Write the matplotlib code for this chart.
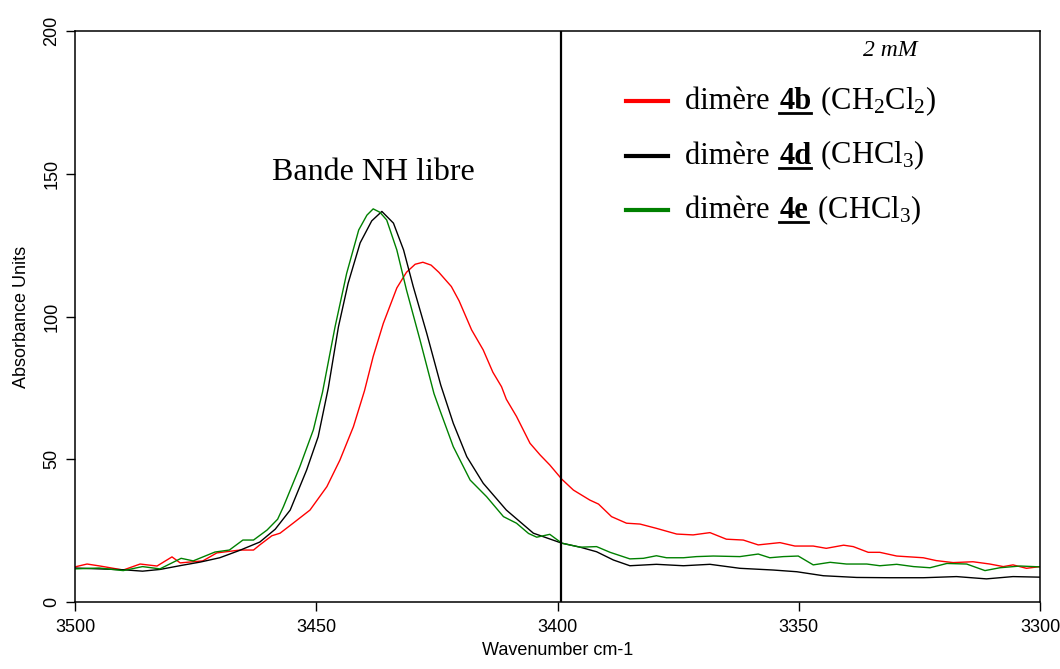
import matplotlib
matplotlib.use('Agg')
import matplotlib.pyplot as plt
import matplotlib.transforms as mtransforms
from matplotlib.lines import Line2D

# --- data (wavenumber cm-1, absorbance) ---
wn_red = [3500, 3497.5, 3494.8, 3490, 3486.5, 3483, 3479.9, 3478.2, 3473.5, 3470.6,
          3465.8, 3463, 3461.7, 3459.2, 3457.5, 3454.8, 3451.3, 3447.8, 3445.1, 3442.3,
          3440, 3438.2, 3436.1, 3433.3, 3431.3, 3429.5, 3427.9, 3426.2, 3424.6, 3422,
          3420.4, 3417.8, 3415.4, 3413.4, 3411.6, 3410.6, 3408.5, 3405.7, 3403.6, 3401.6,
          3399.1, 3396.7, 3393.3, 3391.5, 3388.8, 3385.7, 3382.9, 3379.5, 3375.3, 3371.9,
          3368.4, 3365.0, 3361.5, 3358.4, 3353.9, 3350.8, 3347.0, 3344.3, 3340.7, 3338.7,
          3335.6, 3333.2, 3329.7, 3324.2, 3321.5, 3318.0, 3313.9, 3310.4, 3307.6, 3305.6,
          3302.8, 3300]
abs_red = [12.3, 13.3, 12.6, 11.2, 13.3, 12.6, 15.8, 13.7, 14.4, 17.2,
           18.2, 18.2, 20.0, 23.2, 24.1, 27.6, 32.2, 40.4, 49.7, 61.4,
           74.0, 86.0, 97.6, 110.0, 115.5, 118.3, 119.0, 118.0, 115.5, 110.5,
           105.5, 95.3, 88.3, 80.5, 75.4, 71.0, 65.0, 55.6, 51.5, 48.0,
           43.0, 39.2, 35.7, 34.3, 29.9, 27.6, 27.3, 25.8, 23.8, 23.5,
           24.3, 22.0, 21.7, 20.0, 20.8, 19.6, 19.6, 18.8, 19.9, 19.4,
           17.4, 17.4, 16.1, 15.5, 14.5, 13.8, 14.1, 13.3, 12.4, 13.0,
           11.8, 12.4]

wn_black = [3500, 3495, 3490, 3486, 3482.4, 3478, 3474, 3470, 3466, 3461.7,
            3458.5, 3455.4, 3452.0, 3449.6, 3447.5, 3445.4, 3443.4, 3440.9, 3438.5, 3436.4,
            3434.0, 3431.9, 3429.9, 3427.1, 3424.2, 3421.6, 3418.8, 3415.4, 3410.6, 3405.0,
            3399.1, 3395.3, 3391.9, 3388.4, 3385.0, 3379.5, 3373.9, 3368.4, 3362.2, 3355.3,
            3350.4, 3344.9, 3338.0, 3331.1, 3324.2, 3317.3, 3311.1, 3305.6, 3300]
abs_black = [11.9, 11.6, 11.3, 10.8, 11.4, 12.8, 14.0, 15.5, 18.0, 21.0,
             25.5, 32.2, 46.2, 57.9, 75.0, 96.4, 111.6, 125.8, 133.5, 136.8,
             132.7, 123.3, 110.5, 94.1, 76.0, 62.6, 50.9, 41.6, 32.2, 24.1,
             20.6, 19.2, 17.6, 14.7, 12.7, 13.2, 12.7, 13.2, 11.8, 11.2,
             10.6, 9.2, 8.6, 8.5, 8.5, 8.9, 8.1, 8.9, 8.7]

wn_green = [3500, 3495, 3490, 3486, 3482.4, 3478, 3475.5, 3471, 3468, 3465.2,
            3463, 3460.2, 3458, 3456.8, 3453.4, 3450.6, 3448.7, 3446.1, 3443.7, 3441.2,
            3439.5, 3438.2, 3436.8, 3435.4, 3433.3, 3431.3, 3428.5, 3425.6, 3424.4, 3421.6,
            3418.1, 3414.7, 3411.2, 3408.5, 3406, 3404.3, 3401.6, 3399.1, 3395.3, 3391.9,
            3389.1, 3385.0, 3382.2, 3379.5, 3377.4, 3373.9, 3371.2, 3367.7, 3362.2, 3358.4,
            3356.0, 3353.2, 3350.1, 3347.0, 3343.5, 3340.1, 3335.9, 3333.2, 3329.7, 3326.2,
            3322.8, 3319.3, 3315.2, 3311.4, 3308.3, 3304.1, 3300]
abs_green = [11.6, 11.9, 11.0, 12.4, 11.6, 15.3, 14.4, 17.5, 18.2, 21.7,
             21.7, 25.2, 29.0, 33.4, 47.4, 60.3, 73.5, 96.4, 115.1, 130.3,
             135.5, 137.7, 136.5, 133.8, 123.3, 109.3, 91.8, 73.0, 67.3, 54.4,
             42.7, 36.9, 29.9, 27.6, 24.0, 22.7, 23.7, 20.6, 19.2, 19.4,
             17.4, 15.1, 15.3, 16.2, 15.5, 15.5, 15.9, 16.1, 15.9, 16.8,
             15.5, 15.9, 16.1, 13.0, 13.9, 13.3, 13.3, 12.7, 13.2, 12.4,
             12.0, 13.5, 13.3, 11.0, 12.0, 12.6, 12.3]

x_ticks = [3500, 3450, 3400, 3350, 3300]
y_ticks = [0, 50, 100, 150, 200]
marker_wn = 3399.3

legend_rows = [
    ('red', 'dimère ', '4b', r' (CH$_2$Cl$_2$)'),
    ('black', 'dimère ', '4d', r' (CHCl$_3$)'),
    ('green', 'dimère ', '4e', r' (CHCl$_3$)'),
]

plt.rcParams['mathtext.fontset'] = 'custom'
plt.rcParams['mathtext.rm'] = 'Liberation Serif'
plt.rcParams['mathtext.it'] = 'Liberation Serif:italic'
plt.rcParams['mathtext.bf'] = 'Liberation Serif:bold'
plt.rcParams['mathtext.default'] = 'rm'

W, H = 1060, 669
fig = plt.figure(figsize=(W / 100, H / 100), dpi=100)
ax = fig.add_axes([75 / W, 1 - 602 / H, 965 / W, 571 / H])

ax.plot(wn_red, abs_red, color='#ff0000', lw=1.0)
ax.plot(wn_black, abs_black, color='black', lw=1.0)
ax.plot(wn_green, abs_green, color='#008000', lw=1.0)
ax.axvline(marker_wn, color='black', lw=1.6)

ax.set_xlim(3500, 3300)
ax.set_ylim(0, 200)
ax.set_xticks(x_ticks)
ax.set_yticks(y_ticks)
for lab in ax.get_yticklabels():
    lab.set_rotation(90)
    lab.set_va('center')
ax.tick_params(direction='out', length=6.5, width=1.0, labelsize=13, pad=6)
ax.tick_params(axis='y', pad=4)
for lab in ax.get_xticklabels() + ax.get_yticklabels():
    lab.set_family('Liberation Sans')
for s in ax.spines.values():
    s.set_linewidth(1.1)

ax.set_xlabel('Wavenumber cm-1', family='Liberation Sans', fontsize=13, labelpad=4)
ax.set_ylabel('Absorbance Units', family='Liberation Sans', fontsize=13, labelpad=10)

fig.text(373 / W, 1 - 173 / H, 'Bande NH libre', family='Liberation Serif',
         fontsize=23, ha='center', va='center')
fig.text(890 / W, 1 - 50 / H, '2 mM', family='Liberation Serif', style='italic',
         fontsize=17, ha='center', va='center')

# hand-made legend with bold underlined compound numbers
ident = mtransforms.IdentityTransform()
renderer = fig.canvas.get_renderer()
fs = 22
for i, (col, t_a, t_b, t_c) in enumerate(legend_rows):
    yl = H - (101 + i * 54.5)
    fig.add_artist(Line2D([626, 668], [yl, yl], color=col, lw=3, transform=ident))
    base = yl - 8
    x = 685
    ta = fig.text(x, base, t_a, family='Liberation Serif', fontsize=fs,
                  va='baseline', transform=ident)
    x += ta.get_window_extent(renderer).width + 2
    tb = fig.text(x, base, t_b, family='Liberation Serif', fontsize=fs,
                  weight='bold', va='baseline', transform=ident)
    bb = tb.get_window_extent(renderer)
    fig.add_artist(Line2D([bb.x0, bb.x1], [base - 4, base - 4], color='black',
                          lw=2, transform=ident))
    x += bb.width + 2
    fig.text(x, base, t_c, family='Liberation Serif', fontsize=fs,
             va='baseline', transform=ident)

fig.savefig('out.png', dpi=100)
